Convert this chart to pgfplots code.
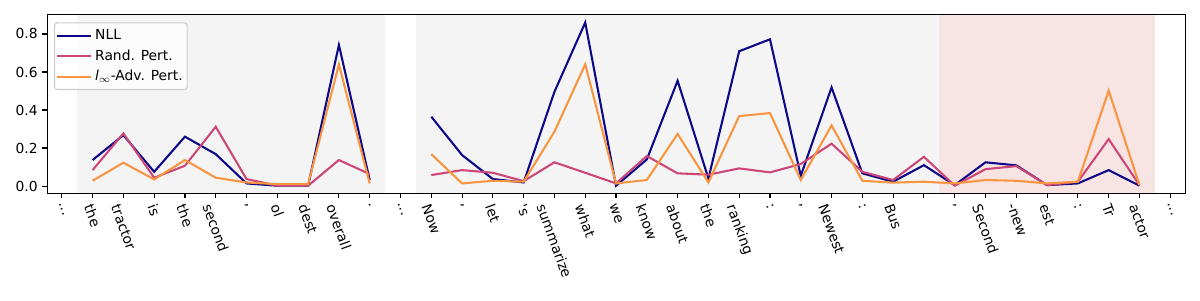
\documentclass[border=0pt]{standalone}
\usepackage{fontspec}
\setmainfont{DejaVu Sans}
\usepackage{graphicx}
\usepackage{pgfplots}
\usepackage{pgfplotstable}
\pgfplotsset{compat=1.18}
\definecolor{cnll}{HTML}{0D0887}
\definecolor{crand}{HTML}{CC4778}
\definecolor{cadv}{HTML}{F89540}
\definecolor{cgray}{HTML}{F4F4F4}
\definecolor{cpink}{HTML}{F8E4E3}
\definecolor{cframe}{HTML}{CCCCCC}
\newcommand{\dd}{.\kern0pt.\kern0pt.}
\newcommand{\rl}[1]{\rotatebox{-70}{#1}}
\pgfplotstableread{
x nll rand adv
0 nan nan nan
1 0.137 0.084 0.028
2 0.268 0.277 0.123
3 0.075 0.044 0.035
4 0.260 0.107 0.137
5 0.168 0.312 0.044
6 0.014 0.037 0.019
7 0.002 0.002 0.010
8 0.002 0.002 0.010
9 0.742 0.137 0.640
10 0.032 0.063 0.014
11 nan nan nan
12 0.365 0.058 0.168
13 0.163 0.084 0.014
14 0.037 0.070 0.028
15 0.019 0.026 0.023
16 0.496 0.125 0.286
17 0.860 0.070 0.640
18 0.002 0.014 0.014
19 0.140 0.158 0.032
20 0.554 0.067 0.274
21 0.040 0.060 0.019
22 0.709 0.093 0.368
23 0.772 0.072 0.384
24 0.054 0.116 0.032
25 0.519 0.223 0.319
26 0.067 0.075 0.028
27 0.023 0.032 0.018
28 0.110 0.154 0.023
29 0.005 0.002 0.014
30 0.125 0.089 0.032
31 0.109 0.105 0.028
32 0.005 0.005 0.014
33 0.014 0.023 0.023
34 0.084 0.247 0.502
35 0.002 0.005 0.005
}\data
\begin{document}
\begin{tikzpicture}
\begin{axis}[
  at={(0,0)}, anchor=south west,
  scale only axis, width=822.4pt, height=128.9pt,
  xmin=-0.47, xmax=36.49, ymin=-0.038, ymax=0.9,
  axis on top,
  axis line style={line width=0.8pt},
  tick pos=left, tick align=outside,
  major tick length=3.5pt,
  every tick/.style={black, line width=0.8pt},
  xtick={0,1,2,3,4,5,6,7,8,9,10,11,12,13,14,15,16,17,18,19,20,21,22,23,24,25,26,27,28,29,30,31,32,33,34,35,36},
  xticklabels={{\rl{\dd}},{\rl{the}},{\rl{tractor}},{\rl{is}},{\rl{the}},{\rl{second}},{\rl{,}},{\rl{ol}},{\rl{dest}},{\rl{overall}},{\rl{.}},{\rl{\dd}},{\rl{Now}},{\rl{,}},{\rl{let}},{\rl{\textquotesingle s}},{\rl{summarize}},{\rl{what}},{\rl{we}},{\rl{know}},{\rl{about}},{\rl{the}},{\rl{ranking}},{\rl{:}},{\rl{,}},{\rl{Newest}},{\rl{:}},{\rl{Bus}},{},{\rl{,}},{\rl{Second}},{\rl{-new}},{\rl{est}},{\rl{:}},{\rl{Tr}},{\rl{actor}},{\rl{\dd}}},
  xticklabel style={anchor=north, inner sep=0pt, yshift=-3.5pt},
  ytick={0,0.2,0.4,0.6,0.8},
  yticklabel style={/pgf/number format/.cd, fixed, fixed zerofill, precision=1, assume math mode=true},
  unbounded coords=jump,
  legend cell align=left,
  legend image code/.code={\draw[#1] (0pt,0pt) -- (21pt,0pt); \path (0pt,0pt) -- (24.7pt,0pt);},
  legend style={at={(0,1)}, anchor=north west, xshift=4.8pt, yshift=-5.3pt,
    draw=cframe, line width=0.8pt, rounded corners=2pt, fill=white, fill opacity=0.8, text opacity=1,
    inner xsep=1.2pt, inner ysep=2.8pt, row sep=1.8pt,
    nodes={inner sep=2pt}},
]
\addplot[draw=none, fill=cgray, forget plot] coordinates {(0.5,-1) (10.5,-1) (10.5,2) (0.5,2)} -- cycle;
\addplot[draw=none, fill=cgray, forget plot] coordinates {(11.5,-1) (28.5,-1) (28.5,2) (11.5,2)} -- cycle;
\addplot[draw=none, fill=cpink, forget plot] coordinates {(28.5,-1) (35.5,-1) (35.5,2) (28.5,2)} -- cycle;
\addplot[cnll, line width=1.5pt] table[x=x, y=nll] {\data};
\addlegendentry{NLL}
\addplot[crand, line width=1.5pt] table[x=x, y=rand] {\data};
\addlegendentry{Rand. Pert.}
\addplot[cadv, line width=1.5pt] table[x=x, y=adv] {\data};
\addlegendentry{\textit{l}$_{\infty}$-Adv. Pert.}
\end{axis}
\pgfresetboundingbox
\path (-34.2pt,-77.1pt) rectangle (833.0pt,139.7pt);
\end{tikzpicture}
\end{document}
